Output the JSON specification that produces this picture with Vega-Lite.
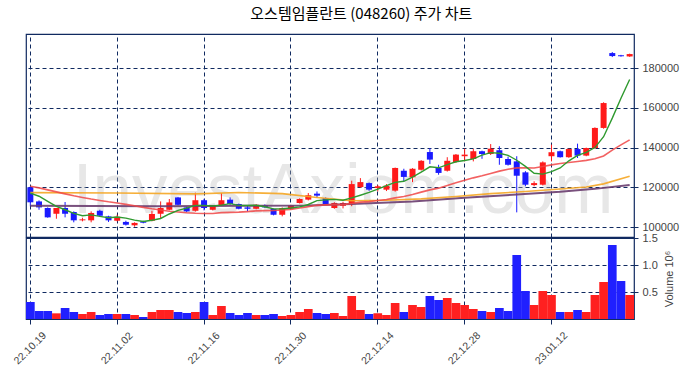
{
  "$schema": "https://vega.github.io/schema/vega-lite/v6.json",
  "padding": {"left": 11, "top": 7, "right": 5, "bottom": 3},
  "bounds": "flush",
  "title": {"text": "오스템임플란트 (048260) 주가 차트", "font": "Noto Sans CJK KR", "fontSize": 15, "fontWeight": "normal", "color": "#000000", "anchor": "middle", "offset": 11, "dx": 16},
  "spacing": 1,
  "config": {
    "view": {"stroke": "#102a60", "strokeWidth": 1.2},
    "axis": {"gridColor": "#102a60", "gridDash": [4, 3], "gridOpacity": 1, "gridWidth": 1, "labelFont": "Liberation Sans", "labelFontSize": 11, "labelColor": "#444444", "tickColor": "#102a60", "domain": false, "titleFont": "Liberation Sans", "titleFontWeight": "normal", "titleColor": "#444444", "titleFontSize": 11}
  },
  "datasets": {
    "candles": [
      {"d":"22.10.19","o":120100,"h":120500,"l":110500,"c":112550,"v":315000,"m5":117200,"m20":120600},
      {"d":"22.10.20","o":113000,"h":113500,"l":108800,"c":110000,"v":148000,"m5":115600,"m20":119800},
      {"d":"22.10.21","o":109700,"h":110000,"l":104800,"c":105000,"v":148000,"m5":113000,"m20":118800},
      {"d":"22.10.24","o":106800,"h":109700,"l":104300,"c":109700,"v":105000,"m5":110500,"m20":117800},
      {"d":"22.10.25","o":109700,"h":112700,"l":105000,"c":106800,"v":204000,"m5":108810,"m20":116800},
      {"d":"22.10.26","o":107700,"h":108000,"l":102500,"c":103500,"v":130000,"m5":107000,"m20":115800},
      {"d":"22.10.27","o":103500,"h":104800,"l":103000,"c":104000,"v":93000,"m5":105800,"m20":115000},
      {"d":"22.10.28","o":103500,"h":108000,"l":102500,"c":107200,"v":130000,"m5":106240,"m20":114200},
      {"d":"22.10.31","o":108300,"h":108800,"l":105500,"c":105800,"v":74000,"m5":105460,"m20":113500},
      {"d":"22.11.01","o":105500,"h":105800,"l":102700,"c":103500,"v":93000,"m5":104800,"m20":112800},
      {"d":"22.11.02","o":103300,"h":106300,"l":103000,"c":105300,"v":93000,"m5":105160,"m20":112200},
      {"d":"22.11.03","o":102700,"h":103300,"l":100900,"c":101300,"v":93000,"m5":104620,"m20":111500},
      {"d":"22.11.04","o":101000,"h":102500,"l":100300,"c":102200,"v":74000,"m5":103620,"m20":110800},
      {"d":"22.11.07","o":103000,"h":103300,"l":102000,"c":102300,"v":37000,"m5":102920,"m20":110000},
      {"d":"22.11.08","o":103300,"h":108300,"l":103000,"c":106700,"v":130000,"m5":103560,"m20":109300},
      {"d":"22.11.09","o":106800,"h":113000,"l":104300,"c":109700,"v":167000,"m5":104440,"m20":108700},
      {"d":"22.11.10","o":108800,"h":114200,"l":108500,"c":112500,"v":167000,"m5":106680,"m20":108100},
      {"d":"22.11.11","o":115000,"h":115300,"l":111000,"c":111300,"v":130000,"m5":108500,"m20":107700},
      {"d":"22.11.14","o":110000,"h":110300,"l":107700,"c":108000,"v":111000,"m5":109640,"m20":107300},
      {"d":"22.11.15","o":108300,"h":117400,"l":107900,"c":113600,"v":130000,"m5":111020,"m20":107050},
      {"d":"22.11.16","o":113600,"h":114300,"l":108500,"c":109700,"v":315000,"m5":111020,"m20":106905},
      {"d":"22.11.17","o":108800,"h":111000,"l":108500,"c":110800,"v":74000,"m5":110680,"m20":106945},
      {"d":"22.11.18","o":111000,"h":117200,"l":110800,"c":113600,"v":241000,"m5":111140,"m20":107375},
      {"d":"22.11.21","o":113900,"h":115000,"l":111300,"c":111700,"v":111000,"m5":111880,"m20":107475},
      {"d":"22.11.22","o":111700,"h":111900,"l":109000,"c":109300,"v":74000,"m5":111020,"m20":107600},
      {"d":"22.11.23","o":110000,"h":110800,"l":108000,"c":109300,"v":111000,"m5":110940,"m20":107890},
      {"d":"22.11.24","o":109300,"h":111600,"l":109000,"c":111300,"v":74000,"m5":111040,"m20":108255},
      {"d":"22.11.25","o":111000,"h":111500,"l":109800,"c":110000,"v":74000,"m5":110320,"m20":108395},
      {"d":"22.11.28","o":109200,"h":109400,"l":106000,"c":106300,"v":93000,"m5":109240,"m20":108420},
      {"d":"22.11.29","o":106300,"h":110000,"l":105500,"c":109700,"v":56000,"m5":109320,"m20":108730},
      {"d":"22.11.30","o":109300,"h":111300,"l":109000,"c":111000,"v":74000,"m5":109660,"m20":109015},
      {"d":"22.12.01","o":112200,"h":114500,"l":112000,"c":114200,"v":130000,"m5":110240,"m20":109660},
      {"d":"22.12.02","o":113900,"h":117200,"l":113500,"c":116100,"v":185000,"m5":111460,"m20":110355},
      {"d":"22.12.05","o":116900,"h":118000,"l":114800,"c":115900,"v":111000,"m5":113380,"m20":111035},
      {"d":"22.12.06","o":114700,"h":115000,"l":111300,"c":111700,"v":93000,"m5":113780,"m20":111285},
      {"d":"22.12.07","o":109700,"h":112600,"l":109300,"c":112200,"v":111000,"m5":114020,"m20":111410},
      {"d":"22.12.08","o":110800,"h":112800,"l":109500,"c":112200,"v":56000,"m5":113620,"m20":111395},
      {"d":"22.12.09","o":111700,"h":123400,"l":110600,"c":121700,"v":426000,"m5":114740,"m20":111915},
      {"d":"22.12.12","o":120200,"h":124700,"l":119800,"c":122700,"v":167000,"m5":116100,"m20":112650},
      {"d":"22.12.13","o":122200,"h":122500,"l":118300,"c":118900,"v":93000,"m5":117540,"m20":112915},
      {"d":"22.12.14","o":119700,"h":121200,"l":118000,"c":120600,"v":105000,"m5":119220,"m20":113460},
      {"d":"22.12.15","o":118900,"h":121700,"l":118200,"c":120900,"v":74000,"m5":120960,"m20":113965},
      {"d":"22.12.16","o":118400,"h":130000,"l":117900,"c":129800,"v":296000,"m5":122580,"m20":114775},
      {"d":"22.12.19","o":128400,"h":129400,"l":123100,"c":125300,"v":130000,"m5":123100,"m20":115455},
      {"d":"22.12.20","o":125100,"h":129700,"l":122700,"c":129400,"v":259000,"m5":125200,"m20":116460},
      {"d":"22.12.21","o":128900,"h":133700,"l":128500,"c":133400,"v":222000,"m5":127760,"m20":117665},
      {"d":"22.12.22","o":137800,"h":139800,"l":131800,"c":134000,"v":426000,"m5":130380,"m20":118800},
      {"d":"22.12.23","o":129800,"h":131400,"l":126400,"c":127300,"v":352000,"m5":129880,"m20":119665},
      {"d":"22.12.26","o":128400,"h":135200,"l":128000,"c":133400,"v":389000,"m5":131500,"m20":121020},
      {"d":"22.12.27","o":132800,"h":136800,"l":132300,"c":136500,"v":296000,"m5":132920,"m20":122360},
      {"d":"22.12.28","o":135700,"h":139500,"l":133100,"c":136500,"v":259000,"m5":133540,"m20":123635},
      {"d":"22.12.29","o":134300,"h":139300,"l":133100,"c":138200,"v":185000,"m5":134380,"m20":124835},
      {"d":"23.01.02","o":138200,"h":138500,"l":134400,"c":136800,"v":148000,"m5":136280,"m20":125870},
      {"d":"23.01.03","o":136800,"h":141800,"l":136300,"c":139500,"v":130000,"m5":137500,"m20":127050},
      {"d":"23.01.04","o":138700,"h":140700,"l":131400,"c":134800,"v":204000,"m5":137160,"m20":128205},
      {"d":"23.01.05","o":134300,"h":135500,"l":131000,"c":131400,"v":148000,"m5":136140,"m20":129165},
      {"d":"23.01.06","o":133100,"h":135700,"l":107500,"c":125900,"v":1185000,"m5":133680,"m20":129850},
      {"d":"23.01.09","o":127600,"h":128200,"l":120600,"c":121400,"v":519000,"m5":130600,"m20":129835},
      {"d":"23.01.10","o":121200,"h":123100,"l":120600,"c":122200,"v":259000,"m5":127140,"m20":129810},
      {"d":"23.01.11","o":121400,"h":133100,"l":121000,"c":132600,"v":519000,"m5":126700,"m20":130495},
      {"d":"23.01.12","o":135700,"h":141500,"l":133100,"c":137700,"v":444000,"m5":127960,"m20":131350},
      {"d":"23.01.13","o":138200,"h":138500,"l":135000,"c":135200,"v":130000,"m5":129820,"m20":132065},
      {"d":"23.01.16","o":135200,"h":139600,"l":134900,"c":139300,"v":130000,"m5":133400,"m20":132540},
      {"d":"23.01.17","o":139300,"h":142000,"l":134800,"c":136000,"v":167000,"m5":136160,"m20":133075},
      {"d":"23.01.18","o":136000,"h":140000,"l":135700,"c":139800,"v":130000,"m5":137600,"m20":133595},
      {"d":"23.01.19","o":139800,"h":150200,"l":139500,"c":149900,"v":444000,"m5":140040,"m20":134420},
      {"d":"23.01.20","o":149900,"h":162800,"l":149500,"c":162400,"v":685000,"m5":145480,"m20":135840},
      {"d":"23.01.25","o":187500,"h":188000,"l":185500,"c":186000,"v":1370000,"m5":154820,"m20":138775},
      {"d":"23.01.26","o":186400,"h":186600,"l":185700,"c":185900,"v":704000,"m5":164800,"m20":141400},
      {"d":"23.01.27","o":185800,"h":187200,"l":185600,"c":187000,"v":444000,"m5":174240,"m20":143925}
    ],
    "ma60": [
      {"d":"22.10.19","m":117400},{"d":"22.11.02","m":117200},{"d":"22.11.15","m":116800},{"d":"22.11.22","m":117500},
      {"d":"22.11.29","m":116900},{"d":"22.12.05","m":115000},{"d":"22.12.09","m":113300},{"d":"22.12.15","m":113600},
      {"d":"22.12.21","m":114300},{"d":"22.12.27","m":115500},{"d":"23.01.03","m":116900},{"d":"23.01.09","m":118000},
      {"d":"23.01.13","m":119200},{"d":"23.01.18","m":120200},{"d":"23.01.20","m":121800},{"d":"23.01.27","m":125600}
    ],
    "ma120": [
      {"d":"22.10.19","m":110800},{"d":"22.11.09","m":110600},{"d":"22.11.23","m":110800},{"d":"22.12.02","m":111000},
      {"d":"22.12.09","m":111700},{"d":"22.12.20","m":113000},{"d":"22.12.28","m":114800},{"d":"23.01.06","m":116500},
      {"d":"23.01.13","m":117800},{"d":"23.01.19","m":119300},{"d":"23.01.27","m":121300}
    ]
  },
  "vconcat": [
    {
      "width": 608,
      "height": 203,
      "encoding": {
        "x": {"field": "d", "type": "ordinal", "scale": {"paddingInner": 0, "paddingOuter": 0},
          "axis": {"orient": "top", "values": ["22.10.19","22.11.02","22.11.16","22.11.30","22.12.14","22.12.28","23.01.12"], "labels": false, "ticks": false, "domain": false, "title": null, "grid": true, "bandPosition": 0.5}}
      },
      "layer": [
        {
          "data": {"values": [{"w": "InvestAxiom.com"}]},
          "mark": {"type": "text", "font": "Liberation Sans", "fontSize": 71, "color": "#bbbbbb", "opacity": 0.35, "baseline": "alphabetic", "align": "center"},
          "encoding": {
            "x": {"datum": "22.12.08"},
            "y": {"datum": 107200, "type": "quantitative", "scale": {"domain": [95130, 197075], "nice": false, "zero": false},
              "axis": {"orient": "right", "values": [100000, 120000, 140000, 160000, 180000], "format": "d", "title": null, "tickSize": 4, "labelPadding": 4, "grid": true}},
            "text": {"field": "w"}
          }
        },
        {
          "data": {"name": "candles"},
          "mark": {"type": "rule", "strokeWidth": 1},
          "encoding": {
            "y": {"field": "l", "type": "quantitative", "scale": {"domain": [95130, 197075], "nice": false, "zero": false},
              "axis": {"orient": "right", "values": [100000, 120000, 140000, 160000, 180000], "format": "d", "title": null, "tickSize": 4, "labelPadding": 4, "grid": true}},
            "y2": {"field": "h"},
            "color": {"condition": {"test": "datum.c >= datum.o", "value": "#ff1a1a"}, "value": "#1a1aff"}
          }
        },
        {
          "data": {"name": "candles"},
          "mark": {"type": "bar", "size": 6},
          "encoding": {
            "y": {"field": "o", "type": "quantitative", "scale": {"domain": [95130, 197075], "nice": false, "zero": false},
              "axis": {"orient": "right", "values": [100000, 120000, 140000, 160000, 180000], "format": "d", "title": null, "tickSize": 4, "labelPadding": 4, "grid": true}},
            "y2": {"field": "c"},
            "color": {"condition": {"test": "datum.c >= datum.o", "value": "#ff1a1a"}, "value": "#1a1aff"}
          }
        },
        {
          "data": {"name": "ma120"},
          "mark": {"type": "line", "color": "#6a3d6f", "strokeWidth": 2, "opacity": 0.9},
          "encoding": {"y": {"field": "m", "type": "quantitative", "scale": {"domain": [95130, 197075], "nice": false, "zero": false},
              "axis": {"orient": "right", "values": [100000, 120000, 140000, 160000, 180000], "format": "d", "title": null, "tickSize": 4, "labelPadding": 4, "grid": true}}}
        },
        {
          "data": {"name": "ma60"},
          "mark": {"type": "line", "color": "#f5a623", "strokeWidth": 1.6, "opacity": 0.9},
          "encoding": {"y": {"field": "m", "type": "quantitative", "scale": {"domain": [95130, 197075], "nice": false, "zero": false},
              "axis": {"orient": "right", "values": [100000, 120000, 140000, 160000, 180000], "format": "d", "title": null, "tickSize": 4, "labelPadding": 4, "grid": true}}}
        },
        {
          "data": {"name": "candles"},
          "mark": {"type": "line", "color": "#f04545", "strokeWidth": 1.6, "opacity": 0.85},
          "encoding": {"y": {"field": "m20", "type": "quantitative", "scale": {"domain": [95130, 197075], "nice": false, "zero": false},
              "axis": {"orient": "right", "values": [100000, 120000, 140000, 160000, 180000], "format": "d", "title": null, "tickSize": 4, "labelPadding": 4, "grid": true}}}
        },
        {
          "data": {"name": "candles"},
          "mark": {"type": "line", "color": "#2f9a2f", "strokeWidth": 1.4},
          "encoding": {"y": {"field": "m5", "type": "quantitative", "scale": {"domain": [95130, 197075], "nice": false, "zero": false},
              "axis": {"orient": "right", "values": [100000, 120000, 140000, 160000, 180000], "format": "d", "title": null, "tickSize": 4, "labelPadding": 4, "grid": true}}}
        }
      ]
    },
    {
      "width": 608,
      "height": 81,
      "data": {"name": "candles"},
      "mark": {"type": "bar"},
      "encoding": {
        "x": {"field": "d", "type": "ordinal", "scale": {"paddingInner": 0, "paddingOuter": 0},
          "axis": {"values": ["22.10.19","22.11.02","22.11.16","22.11.30","22.12.14","22.12.28","23.01.12"], "labelAngle": -45, "labelAlign": "center", "labelBaseline": "middle", "labelFontSize": 10.5, "title": null, "grid": true, "bandPosition": 0.5, "tickSize": 5, "domain": false, "labelPadding": 24}},
        "y": {"field": "v", "type": "quantitative", "scale": {"domain": [0, 1500000], "nice": false},
          "axis": {"orient": "right", "values": [500000, 1000000, 1500000], "labelExpr": "format(datum.value / 1000000, '.1f')", "title": "Volume  10⁶", "titleAngle": 270, "titleBaseline": "top", "titlePadding": 6, "tickSize": 4, "labelPadding": 4, "grid": true}},
        "color": {"condition": {"test": "datum.c >= datum.o", "value": "#ff2020"}, "value": "#2020ff"}
      }
    }
  ]
}
